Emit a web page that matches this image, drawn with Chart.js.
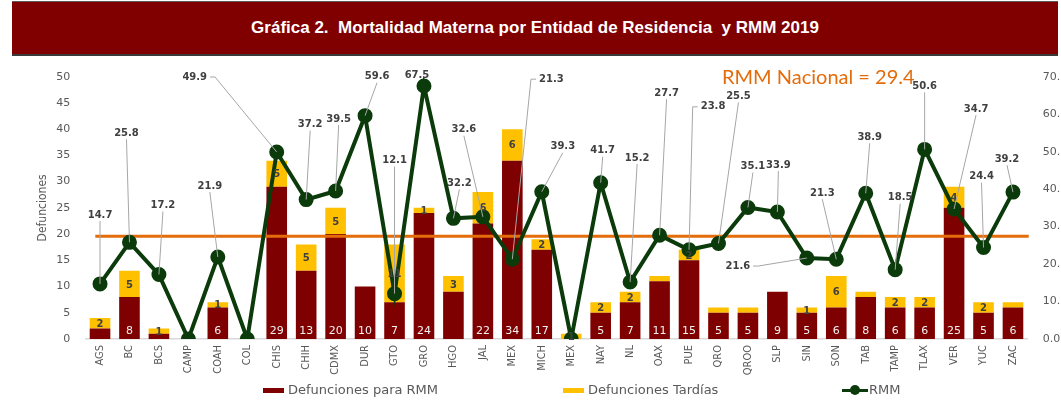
<!DOCTYPE html>
<html>
<head>
<meta charset="utf-8">
<script src="https://cdn.jsdelivr.net/npm/chart.js@4.4.0/dist/chart.umd.min.js"></script>
<style>
html,body{margin:0;padding:0;background:#fff;width:1061px;height:405px;overflow:hidden;}
#wrap{position:relative;width:1061px;height:405px;}
#c{position:absolute;left:0;top:0;}
#title{position:absolute;left:12px;top:1px;width:1046px;height:52px;background:#800000;border-top:1px solid #5a5a5a;border-bottom:2px solid #3a3a3a;color:#fff;font:bold 17px "Liberation Sans",Arial,sans-serif;text-align:center;line-height:52px;white-space:pre;z-index:2;}
#nac{position:absolute;left:722px;top:63px;color:#E46C0A;font:20px Lato,"Open Sans",sans-serif;white-space:nowrap;z-index:2;line-height:26px;}
.lg{position:absolute;top:382px;height:16px;font:13px "DejaVu Sans",sans-serif;color:#595959;white-space:nowrap;z-index:2;}
.lg .box{position:absolute;left:0;top:6px;width:21px;height:5px;}
.lg .txt{position:absolute;top:0;line-height:16px;}
.lg .ln{position:absolute;left:0;top:7px;width:26px;height:3px;}
.lg .dot{position:absolute;left:8px;top:3px;width:10px;height:10px;border-radius:50%;}
</style>
</head>
<body>
<div id="wrap">
  <div id="title"></div>
  <div id="nac"></div>
  <div id="legend"></div>
  <canvas id="c" width="1061" height="405"></canvas>
</div>
<script>
// ---- data ----
const chartTitle = 'Gráfica 2.  Mortalidad Materna por Entidad de Residencia  y RMM 2019';
const categories = ['AGS','BC','BCS','CAMP','COAH','COL','CHIS','CHIH','CDMX','DUR','GTO','GRO','HGO','JAL','MEX','MICH','MEX','NAY','NL','OAX','PUE','QRO','QROO','SLP','SIN','SON','TAB','TAMP','TLAX','VER','YUC','ZAC'];
const defuncionesRMM     = [2,8,1,0,6,0,29,13,20,10,7,24,9,22,34,17,0,5,7,11,15,5,5,9,5,6,8,6,6,25,5,6];
const defuncionesTardias = [2,5,1,0,1,0,5,5,5,0,11,1,3,6,6,2,1,2,2,1,2,1,1,0,1,6,1,2,2,4,2,1];
const rmm = [14.7,25.8,17.2,0,21.9,0,49.9,37.2,39.5,59.6,12.1,67.5,32.2,32.6,21.3,39.3,0,41.7,15.2,27.7,23.8,25.5,35.1,33.9,21.6,21.3,38.9,18.5,50.6,34.7,24.4,39.2];
const rmmNacional = 29.4;
const rmmNacionalLineLevel = 27.4;   // level (RMM axis) where the reference draws the national line
const seriesNames = ['Defunciones para RMM','Defunciones Tardías','RMM'];
const leftAxis  = {min:0, max:50, step:5, title:'Defunciones'};
const rightAxis = {min:0, max:70, step:10};
// labels that the reference does not show (indices)
const hiddenRMMBarLabels = [0,2,12];
const hiddenTardiasLabels = [19,21,22,26,31];
// label placement offsets for RMM data labels (style, px)
const rmmLabelOffsets = [[0,-69],[-3,-109],[4,-69],[0,0],[-8,-71],[0,0],[-82,-75],[4,-75],[3,-72],[12,-39],[0,-133],[-7,-11],[6,-35],[-19,-87],[39,-180],[21,-45],[0,0],[2,-32],[7,-124],[7,-142],[24,-143],[20,-147],[5,-41],[1,-47],[-69,8],[-14,-66],[4,-56],[5,-72],[0,-63],[22,-100],[-2,-71],[-6,-33]];

// ---- style ----
const C_RED = '#7F0000', C_YEL = '#FFC000', C_GRN = '#0B3B0B', C_ORG = '#E46C0A', C_TXT = '#595959';

document.getElementById('title').textContent = chartTitle;
document.getElementById('nac').textContent = 'RMM Nacional = ' + rmmNacional;

const legendDefs = [
  {name: seriesNames[0], left: 263, kind:'box', color: C_RED},
  {name: seriesNames[1], left: 563, kind:'box', color: C_YEL},
  {name: seriesNames[2], left: 842, kind:'line', color: C_GRN}
];
const lg = document.getElementById('legend');
legendDefs.forEach(d => {
  const el = document.createElement('div');
  el.className = 'lg'; el.style.left = d.left + 'px';
  if (d.kind === 'box') {
    el.innerHTML = '<div class="box" style="background:'+d.color+'"></div><div class="txt" style="left:25px"></div>';
  } else {
    el.innerHTML = '<div class="ln" style="background:'+d.color+'"></div><div class="dot" style="background:'+d.color+'"></div><div class="txt" style="left:27px"></div>';
  }
  el.querySelector('.txt').textContent = d.name;
  lg.appendChild(el);
});

const overlay = {
  id: 'overlay',
  afterDatasetDraw(chart, args) {
    if (args.index !== 0) return;
    const {ctx, chartArea: a, scales} = chart;
    const y = scales.y1.getPixelForValue(rmmNacionalLineLevel);
    ctx.save();
    ctx.strokeStyle = C_ORG; ctx.lineWidth = 3;
    ctx.beginPath(); ctx.moveTo(a.left + 10, y); ctx.lineTo(a.right + 1, y); ctx.stroke();
    ctx.restore();
  },
  afterDatasetsDraw(chart) {
    const {ctx, chartArea: a} = chart;
    const m0 = chart.getDatasetMeta(0), m1 = chart.getDatasetMeta(1), m2 = chart.getDatasetMeta(2);
    ctx.save();
    ctx.textAlign = 'center'; ctx.textBaseline = 'middle';
    // dark red labels
    ctx.font = '11px "DejaVu Sans"'; ctx.fillStyle = '#F2F2F2';
    defuncionesRMM.forEach((v, i) => {
      if (!v || hiddenRMMBarLabels.includes(i)) return;
      ctx.fillText(String(v), m0.data[i].x, a.bottom - 8);
    });
    // yellow labels
    ctx.font = 'bold 10px "DejaVu Sans"'; ctx.fillStyle = '#404040';
    defuncionesTardias.forEach((v, i) => {
      if (!v || hiddenTardiasLabels.includes(i)) return;
      const b = m1.data[i];
      ctx.fillText(String(v), b.x, (b.y + b.base) / 2 + 1);
    });
    // RMM labels with leader lines
    ctx.font = 'bold 10px "DejaVu Sans"';
    rmm.forEach((v, i) => {
      if (!v) return;
      const p = m2.data[i];
      const off = rmmLabelOffsets[i];
      const lx = p.x + off[0], ly = p.y + off[1];
      const t = v.toFixed(1);
      const hw = ctx.measureText(t).width / 2 + 2, hh = 6;
      let pts;
      if (p.x < lx - hw - 8) pts = [[lx - hw - 1, ly], [lx - hw - 6, ly]];
      else if (p.x > lx + hw + 8) pts = [[lx + hw + 1, ly], [lx + hw + 6, ly]];
      else if (p.y > ly) pts = [[lx, ly + hh]];
      else pts = [[lx, ly - hh]];
      const s = pts[pts.length - 1];
      if (Math.hypot(p.x - s[0], p.y - s[1]) > 10) {
        ctx.strokeStyle = '#A6A6A6'; ctx.lineWidth = 1;
        ctx.beginPath(); ctx.moveTo(pts[0][0], pts[0][1]);
        for (let k = 1; k < pts.length; k++) ctx.lineTo(pts[k][0], pts[k][1]);
        ctx.lineTo(p.x, p.y); ctx.stroke();
      }
      ctx.fillStyle = '#404040';
      ctx.fillText(t, lx, ly);
    });
    ctx.restore();
  }
};

new Chart(document.getElementById('c'), {
  data: {
    labels: categories,
    datasets: [
      {type:'bar', label: seriesNames[0], data: defuncionesRMM, backgroundColor: C_RED, yAxisID:'y', stack:'s', order:1, barPercentage:0.7, categoryPercentage:1},
      {type:'bar', label: seriesNames[1], data: defuncionesTardias, backgroundColor: C_YEL, yAxisID:'y', stack:'s', order:2, barPercentage:0.7, categoryPercentage:1},
      {type:'line', label: seriesNames[2], data: rmm, borderColor: C_GRN, backgroundColor: C_GRN, borderWidth:4, pointRadius:5.5, pointBackgroundColor:C_GRN, pointBorderColor:C_GRN, tension:0, yAxisID:'y1', order:0}
    ]
  },
  options: {
    responsive: false,
    animation: false,
    events: [],
    layout: {padding: {top: 76.7, left: 0, right: 0, bottom: 0}},
    plugins: {legend: {display:false}, title:{display:false}, tooltip:{enabled:false}},
    scales: {
      x: {
        stacked: true,
        grid: {display:false, drawTicks:false},
        border: {display:true, color:'#D9D9D9', width:1.5},
        ticks: {autoSkip:false, minRotation:90, maxRotation:90, padding:6, color:C_TXT, font:{family:'"Liberation Sans Narrow","DejaVu Sans Condensed",sans-serif', size:11}},
        afterFit: s => { s.height = 66; }
      },
      y: {
        position:'left', stacked:true, min:leftAxis.min, max:leftAxis.max,
        grid:{display:false, drawTicks:false}, border:{display:false},
        ticks:{stepSize:leftAxis.step, padding:15, color:C_TXT, font:{family:'"DejaVu Sans",sans-serif', size:11}},
        title:{display:true, text:leftAxis.title, color:C_TXT, padding:{top:36, bottom:0}, font:{family:'"Liberation Sans Narrow","DejaVu Sans Condensed",sans-serif', size:12}},
        afterFit: s => { s.width = 85.3; }
      },
      y1: {
        position:'right', min:rightAxis.min, max:rightAxis.max,
        grid:{display:false, drawTicks:false}, border:{display:false},
        ticks:{stepSize:rightAxis.step, padding:15, color:C_TXT, font:{family:'"DejaVu Sans",sans-serif', size:11}, callback: v => Number(v).toFixed(1)},
        afterFit: s => { s.width = 33.3; }
      }
    }
  },
  plugins: [overlay]
});
</script>
</body>
</html>
